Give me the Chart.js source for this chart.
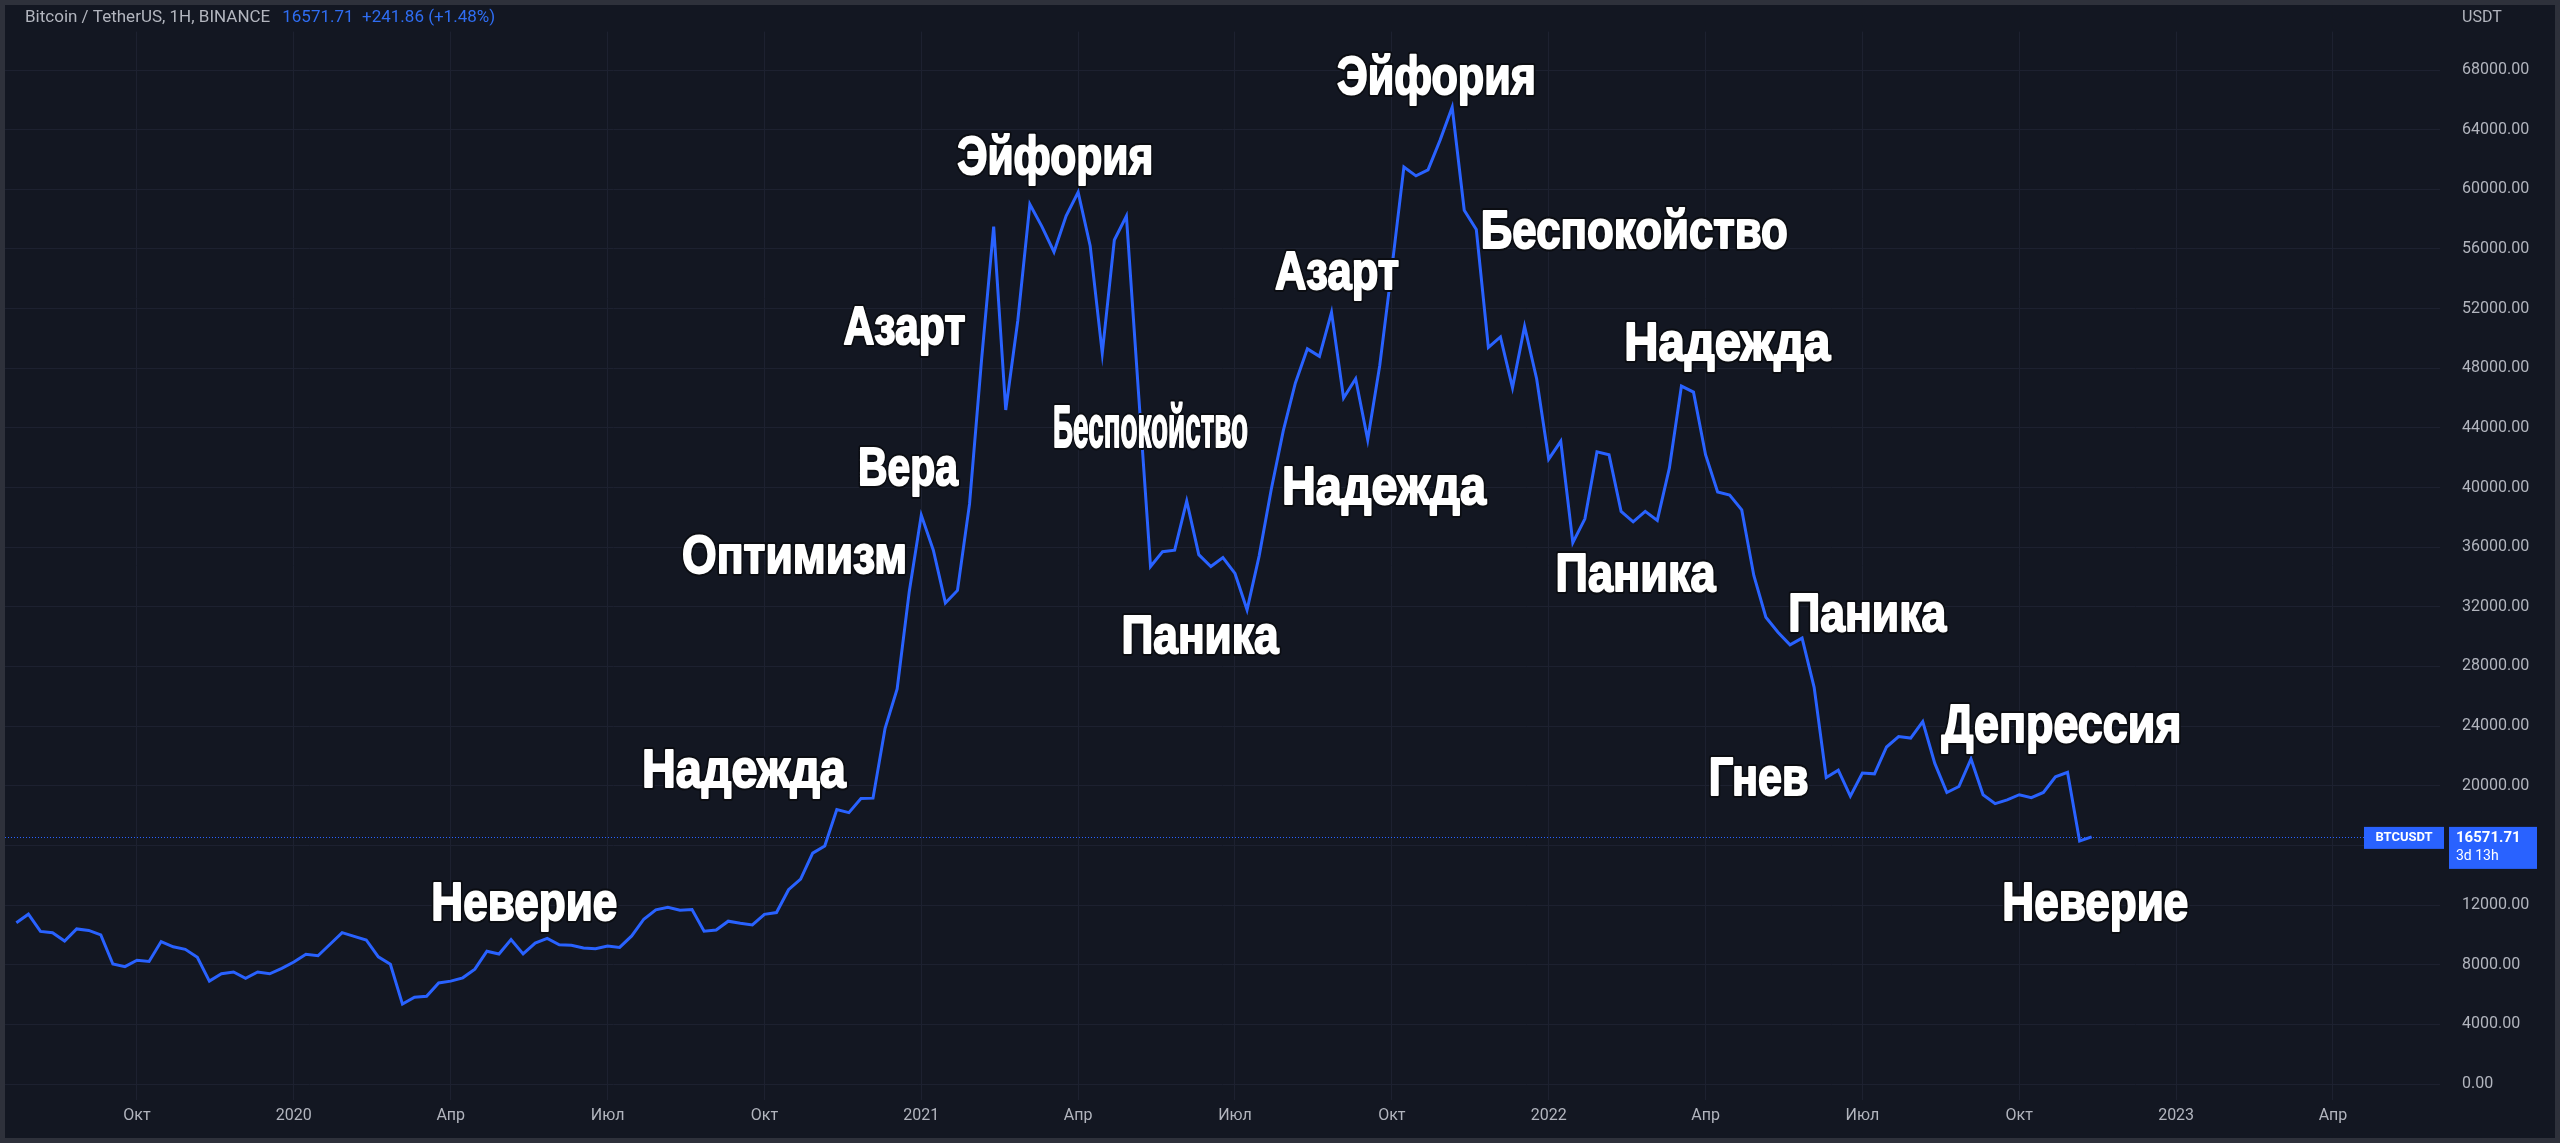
<!DOCTYPE html>
<html>
<head>
<meta charset="utf-8">
<script src="https://cdn.jsdelivr.net/npm/chart.js@4.4.0/dist/chart.umd.min.js"></script>
<style>
  html, body { margin: 0; padding: 0; background: #131722; overflow: hidden; }
  #wrap { width: 2560px; height: 1143px; }
</style>
</head>
<body>
<div id="wrap"><canvas id="btc" width="2560" height="1143"></canvas></div>
<script>
// недельные закрытия BTC/USDT, первая неделя — 29.07.2019
const weekStart = '2019-07-29';
const closes = [
  10820, 11390, 10230, 10140, 9590, 10400, 10300, 10000, 8050, 7870,
  8300, 8220, 9550, 9200, 9030, 8500, 6900, 7400, 7510, 7080,
  7510, 7390, 7760, 8180, 8700, 8600, 9370, 10150, 9900, 9660,
  8530, 8030, 5360, 5820, 5880, 6780, 6900, 7120, 7700, 8900,
  8720, 9680, 8720, 9450, 9760, 9340, 9300, 9120, 9070, 9250,
  9160, 9930, 11050, 11680, 11850, 11650, 11700, 10250, 10330, 10920,
  10780, 10670, 11380, 11500, 13030, 13740, 15480, 15960, 18400, 18200,
  19150, 19170, 23850, 26500, 33000, 38150, 35800, 32260, 33100, 38900,
  48600, 57500, 45200, 51200, 59000, 57500, 55800, 58200, 59800, 56200,
  49000, 56600, 58200, 46400, 34700, 35700, 35800, 39100, 35500, 34700,
  35300, 34240, 31800, 35400, 39850, 43800, 47000, 49300, 48800, 51750,
  46000, 47300, 43200, 48200, 54700, 61500, 60900, 61300, 63300, 65500,
  58600, 57300, 49400, 50100, 46700, 50800, 47300, 41900, 43100, 36300,
  37900, 42400, 42200, 38400, 37700, 38400, 37800, 41300, 46800, 46400,
  42200, 39700, 39500, 38500, 34100, 31300, 30300, 29450, 29900, 26600,
  20550, 21050, 19300, 20850, 20800, 22600, 23300, 23200, 24300, 21500,
  19550, 19950, 21800, 19400, 18800, 19050, 19400, 19200, 19550, 20600,
  20900, 16300, 16571.71
];

// подписи оси времени (номер недели первого бара месяца)
const weekTicks = [10, 23, 36, 49, 62, 75, 88, 101, 114, 127, 140, 153, 166, 179, 192];
const weekTickLabels = ['Окт', '2020', 'Апр', 'Июл', 'Окт', '2021', 'Апр', 'Июл', 'Окт', '2022', 'Апр', 'Июл', 'Окт', '2023', 'Апр'];
const priceTicks = [0, 4000, 8000, 12000, 16000, 20000, 24000, 28000, 32000, 36000, 40000,
  44000, 48000, 52000, 56000, 60000, 64000, 68000];
const hiddenPriceTicks = [16000]; // закрыта плашкой цены

const lastPrice = 16571.71;
const lastChange = 241.86;
const lastChangePct = 1.48;
const barTimeLeft = '3d 13h';

// фазы рынка: текст, неделя, цена
const phaseNames = ['Неверие', 'Надежда', 'Оптимизм', 'Вера', 'Азарт', 'Эйфория', 'Беспокойство', 'Паника',
  'Азарт', 'Надежда', 'Эйфория', 'Беспокойство', 'Надежда', 'Паника', 'Паника', 'Гнев', 'Депрессия', 'Неверие'];
const phaseWeeks = [42.1, 60.3, 64.5, 73.9, 73.6, 86.1, 94.0, 98.1,
  109.45, 113.35, 117.7, 134.1, 141.8, 134.2, 153.4, 144.4, 169.5, 172.3];
const phasePrices = [12270, 21190, 35580, 41480, 50940, 62310, 44200, 30180,
  54630, 40170, 67670, 57370, 49830, 34370, 31660, 20680, 24210, 12270];
// ширина надписей в пикселях и кегль
const phaseWidths = [186, 204, 225, 100, 122, 196, 195, 157, 124, 204, 199, 307, 206, 160, 158, 100, 240, 186];
const phaseSizes = [54, 54, 54, 54, 54, 54, 60, 54, 54, 54, 54, 54, 54, 54, 54, 54, 54, 54];

const BG = '#131722';
const GRID = '#1d2130';
const TEXT = '#b2b5be';
const BLUE = '#2962ff';
const UI_FONT = 'Roboto, "Liberation Sans", Arial, sans-serif';
const PHASE_FONT = '"Liberation Sans", Arial, sans-serif';

// где на картинке должны стоять 0 и 68000
const Y_ZERO_PX = 1084, Y_TOP_PX = 70, Y_TOP_VAL = 68000;

const overlay = {
  id: 'overlay',
  beforeDraw(chart) {
    const ctx = chart.ctx;
    ctx.save();
    ctx.fillStyle = BG;
    ctx.fillRect(0, 0, chart.width, chart.height);
    ctx.restore();
  },
  beforeDatasetsDraw(chart) {
    // пунктир текущей цены
    const ctx = chart.ctx, y = chart.scales.y.getPixelForValue(lastPrice);
    const a = chart.chartArea;
    ctx.save();
    ctx.strokeStyle = BLUE;
    ctx.lineWidth = 1;
    ctx.setLineDash([1, 2]);
    ctx.beginPath();
    ctx.moveTo(a.left, Math.round(y) + 0.5);
    ctx.lineTo(a.right, Math.round(y) + 0.5);
    ctx.stroke();
    ctx.restore();
  },
  afterDatasetsDraw(chart) {
    const ctx = chart.ctx, xs = chart.scales.x, ys = chart.scales.y;
    phaseNames.forEach((t, i) => {
      const size = phaseSizes[i];
      const cx = xs.getPixelForValue(phaseWeeks[i]);
      const cy = ys.getPixelForValue(phasePrices[i]);
      ctx.save();
      ctx.font = 'bold ' + size + 'px ' + PHASE_FONT;
      const sx = phaseWidths[i] / ctx.measureText(t).width;
      ctx.translate(cx, cy + size * 0.36);
      ctx.scale(sx, 1);
      ctx.textAlign = 'center';
      ctx.textBaseline = 'alphabetic';
      ctx.lineJoin = 'round';
      ctx.strokeStyle = '#0b0d12';
      ctx.lineWidth = 6;
      ctx.strokeText(t, 0, 0);
      ctx.strokeStyle = '#ffffff';
      ctx.lineWidth = 2;
      ctx.strokeText(t, 0, 0);
      ctx.fillStyle = '#ffffff';
      ctx.fillText(t, 0, 0);
      ctx.restore();
    });
  },
  afterDraw(chart) {
    const ctx = chart.ctx, a = chart.chartArea;
    const py = chart.scales.y.getPixelForValue(lastPrice);
    ctx.save();
    // заголовок
    ctx.font = '17px ' + UI_FONT;
    ctx.textBaseline = 'middle';
    ctx.textAlign = 'left';
    ctx.fillStyle = TEXT;
    const title = 'Bitcoin / TetherUS, 1H, BINANCE';
    ctx.fillText(title, 25, 18);
    const tw = ctx.measureText(title).width;
    ctx.fillStyle = '#2f6df2';
    ctx.fillText(lastPrice.toFixed(2) + '  +' + lastChange.toFixed(2) + ' (+' + lastChangePct.toFixed(2) + '%)', 25 + tw + 12, 18);
    // валюта шкалы
    ctx.fillStyle = TEXT;
    ctx.font = '16px ' + UI_FONT;
    ctx.fillText('USDT', a.right + 22, 18);
    // плашки цены
    ctx.fillStyle = BLUE;
    ctx.fillRect(a.right - 76, py - 10, 80, 22);
    ctx.fillRect(a.right + 9, py - 10, 88, 42);
    ctx.fillStyle = '#ffffff';
    ctx.font = 'bold 13px ' + UI_FONT;
    ctx.textAlign = 'center';
    ctx.fillText('BTCUSDT', a.right - 36, py + 1);
    ctx.textAlign = 'left';
    ctx.font = 'bold 15px ' + UI_FONT;
    ctx.fillText(lastPrice.toFixed(2), a.right + 16, py + 1);
    ctx.font = '14px ' + UI_FONT;
    ctx.fillText(barTimeLeft, a.right + 16, py + 20);
    // рамка
    ctx.strokeStyle = '#2e313b';
    ctx.lineWidth = 5;
    ctx.strokeRect(2.5, 2.5, chart.width - 5, chart.height - 5);
    ctx.restore();
  }
};

const chart = new Chart(document.getElementById('btc'), {
  type: 'line',
  data: {
    datasets: [{
      label: 'BTCUSDT',
      data: closes.map((v, i) => ({ x: i, y: v })),
      borderColor: BLUE,
      borderWidth: 3,
      pointRadius: 0,
      tension: 0,
      fill: false
    }]
  },
  options: {
    responsive: false,
    devicePixelRatio: 1,
    animation: false,
    layout: { padding: { left: 5, top: 5, right: 15, bottom: 5 } },
    plugins: { legend: { display: false }, tooltip: { enabled: false } },
    scales: {
      x: {
        type: 'linear',
        min: -0.94,
        max: 200.87,
        afterBuildTicks: s => { s.ticks = weekTicks.map(v => ({ value: v })); },
        afterFit: s => { s.height = 38; },
        grid: { color: GRID, lineWidth: 1, drawTicks: false },
        border: { display: false },
        ticks: {
          autoSkip: false,
          maxRotation: 0,
          padding: 6,
          color: TEXT,
          font: { family: UI_FONT, size: 16 },
          callback: (v, i) => weekTickLabels[i]
        }
      },
      y: {
        position: 'right',
        min: -1073,
        max: 72370,
        afterBuildTicks: s => { s.ticks = priceTicks.map(v => ({ value: v })); },
        afterFit: s => { s.width = 105; },
        grid: { color: GRID, lineWidth: 1, drawTicks: false },
        border: { display: false },
        ticks: {
          padding: 22,
          color: TEXT,
          font: { family: UI_FONT, size: 16 },
          callback: v => hiddenPriceTicks.includes(v) ? '' : v.toFixed(2)
        }
      }
    }
  },
  plugins: [overlay]
});

// подгоняем пределы шкалы цены под реальную высоту области графика
const area = chart.chartArea;
const k = (Y_ZERO_PX - Y_TOP_PX) / Y_TOP_VAL;
chart.options.scales.y.min = -(area.bottom - Y_ZERO_PX) / k;
chart.options.scales.y.max = (Y_ZERO_PX - area.top) / k;
chart.update();
</script>
</body>
</html>
